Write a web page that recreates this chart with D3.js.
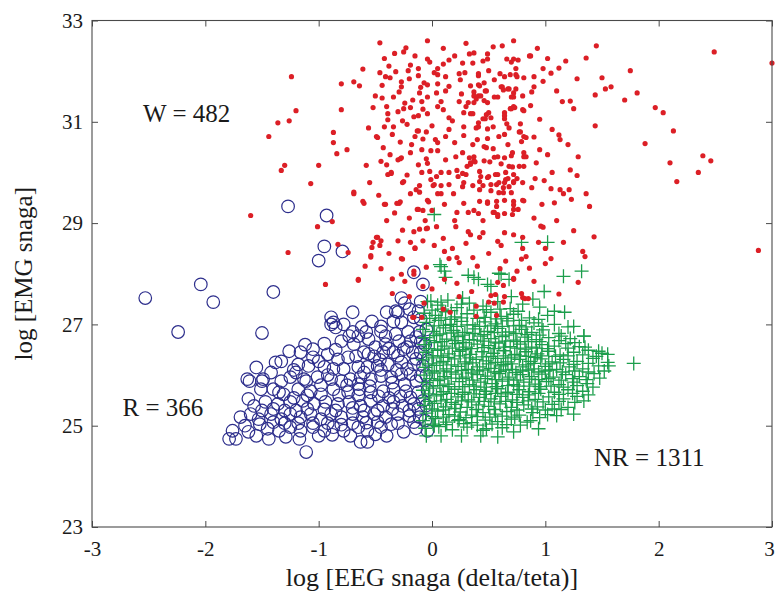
<!DOCTYPE html>
<html>
<head>
<meta charset="utf-8">
<script src="https://cdn.jsdelivr.net/npm/d3@7"></script>
<style>
  html, body { margin: 0; padding: 0; background: #fff; }
  text { font-family: "Liberation Serif", "Times New Roman", serif; fill: #1a1a1a; }
</style>
</head>
<body>
<svg id="chart" width="776" height="605"></svg>
<script>
"use strict";

var xTicks = [-3, -2, -1, 0, 1, 2, 3];
var yTicks = [23, 25, 27, 29, 31, 33];
var xTitle = "log [EEG snaga (delta/teta)]";
var yTitle = "log [EMG snaga]";
var groupLabels = ["W = 482", "R = 366", "NR = 1311"];
var labelAnchors = [[-2.55, 31.0], [-2.73, 25.2], [1.43, 24.2]];

// W (budnost) - red dots
var wakePoints = [
  [-1.24,31.89],[-1.20,31.22],[-1.26,31.02],[-1.36,30.98],[-1.44,30.71],[-0.80,31.75],[-0.69,31.79],[-0.64,31.71],
  [-0.61,32.04],[-0.46,32.56],[-0.80,31.24],[-0.87,30.79],[-0.87,30.59],[-0.84,30.37],[-0.75,30.45],[-1.30,30.14],
  [-1.33,30.04],[-1.00,30.14],[-1.07,29.78],[-1.60,29.15],[-0.69,29.58],[-0.60,29.39],[-0.58,30.14],[-0.55,29.80],
  [-0.56,30.88],[-0.52,31.28],[-0.50,31.51],[-0.44,31.47],[-0.42,29.37],[-0.28,29.42],[-0.25,29.82],[-0.36,30.00],
  [-0.37,30.35],[-0.43,30.49],[-0.39,31.04],[-0.48,30.69],[-0.35,30.75],[-0.28,30.27],[-0.19,30.39],[-0.19,29.58],
  [-0.14,29.66],[-0.12,29.27],[-0.08,29.25],[-0.03,29.42],[-0.04,32.60],[-0.23,32.46],[-0.25,32.38],[-0.19,32.12],
  [-0.21,32.01],[-0.27,31.79],[-0.27,31.69],[-0.29,31.59],[-0.34,31.49],[-0.46,31.97],[-0.41,31.89],[-0.37,31.87],
  [-0.32,31.99],[-0.17,31.43],[-0.24,31.37],[-0.25,31.26],[-0.19,31.28],[-0.16,31.10],[-0.26,31.02],[-0.11,31.57],
  [-0.07,31.77],[-0.04,31.49],[-0.12,30.82],[-0.08,30.66],[-0.09,30.45],[-0.02,30.02],[-0.01,29.86],[0.01,29.74],
  [0.05,29.58],[-0.01,30.43],[-0.04,32.24],[-0.02,32.18],
  [-1.01,28.93],[-0.88,29.03],[-1.27,28.42],[-0.94,27.79],[-0.83,28.58],[-0.74,28.42],[-0.65,27.89],[-0.53,28.52],
  [-0.48,28.72],[-0.45,28.65],[-0.59,28.15],[-0.54,28.33],[-0.61,29.43],[-0.41,29.37],[-0.31,29.39],[-0.26,28.86],
  [-0.16,28.83],[-0.26,28.29],[-0.24,27.85],[-0.35,27.61],[-0.16,27.14],[-0.09,27.14],[-0.05,28.89],[-0.15,28.51],
  [-0.69,29.61],[-0.11,29.61],[-0.04,29.45],[-0.13,29.27],[-0.16,27.99],[-0.27,27.99],[-0.36,29.98],[-0.26,29.80],
  [-0.29,29.39],[0.04,29.92],[0.08,29.74],[0.15,29.76],[0.23,29.92],[0.30,29.96],[0.08,29.58],[0.19,29.58],
  [0.27,29.72],[0.36,29.74],[0.43,29.92],[0.45,29.74],[0.50,29.92],[0.58,29.96],[0.65,29.86],[0.57,29.76],
  [0.63,29.60],[0.72,29.80],[0.80,29.80],[0.11,29.37],[0.22,29.21],[0.28,29.39],[0.42,29.43],[0.49,29.39],
  [0.57,29.43],[0.64,29.45],[0.72,29.43],[0.72,29.27],[0.76,29.27],[0.55,29.21],[0.58,29.13],[0.64,29.19],
  [0.37,29.25],[0.32,29.21],[-0.11,28.88],[-0.04,28.90],[0.04,28.93],[0.21,28.93],[0.32,28.83],[0.34,28.77],
  [0.45,28.81],[0.42,28.72],[0.58,28.64],[0.64,28.81],[0.72,28.77],[0.80,28.50],[0.80,28.72],[0.61,28.56],
  [-0.19,28.62],[-0.49,28.72],[-0.52,28.62],[-0.46,28.56],[-0.54,28.36],[-0.65,27.87],[-0.27,28.30],[-0.15,28.50],
  [0.02,28.56],[0.11,28.44],[0.18,28.50],[0.22,28.32],[0.24,28.22],[0.36,28.32],[-0.05,28.13],[-0.16,28.05],
  [0.24,27.55],[0.39,27.36],[0.50,27.44],[0.56,27.59],[0.64,27.55],[0.80,27.53],[0.10,27.30],[-0.17,27.14],
  [0.11,27.89],[0.22,27.81],[0.58,27.83],[0.63,27.77],[0.72,27.89],[0.79,27.61],[0.82,27.51],[0.85,27.51],
  [0.52,27.57],[0.55,27.42],[0.63,27.44],[0.39,27.16],[0.57,27.18],[0.16,27.24],[-0.07,27.42],[1.29,27.83],
  [0.33,32.34],[0.37,32.36],[0.54,32.48],[0.49,32.34],[0.15,32.22],[0.10,32.14],[0.27,32.16],[0.36,32.16],
  [0.66,32.24],[0.70,32.18],[0.76,32.22],[0.86,32.30],[0.74,32.05],[0.74,31.93],[-0.12,31.91],[0.02,31.97],
  [0.05,31.93],[0.12,31.89],[0.24,31.95],[0.29,31.97],[0.25,31.83],[0.41,31.91],[0.55,31.83],[0.64,31.89],
  [0.81,31.87],[-0.04,31.73],[0.05,31.75],[0.34,31.71],[0.41,31.73],[0.46,31.77],[0.62,31.69],[0.68,31.65],
  [0.74,31.65],[0.04,31.57],[0.12,31.61],[0.26,31.55],[0.37,31.51],[0.48,31.61],[0.58,31.49],[0.72,31.49],
  [0.80,31.51],[-0.09,31.40],[0.08,31.40],[0.10,31.24],[0.05,31.30],[0.24,31.40],[0.32,31.38],[0.39,31.45],
  [0.46,31.42],[0.49,31.38],[0.70,31.26],[0.73,31.28],[0.80,31.24],[0.64,31.18],[-0.12,31.12],[-0.04,31.16],
  [0.15,31.08],[0.18,31.02],[0.28,31.18],[0.34,31.16],[0.47,31.06],[0.52,31.08],[0.64,31.06],[-0.39,31.16],
  [-0.34,30.90],[-0.13,30.82],[0.00,30.92],[0.28,30.90],[0.41,30.90],[0.49,30.86],[0.68,30.88],[0.77,30.80],
  [0.81,30.71],[-0.49,30.71],[-0.15,30.71],[0.03,30.65],[0.05,30.59],[0.12,30.71],[0.20,30.59],[0.28,30.73],
  [0.40,30.65],[0.48,30.49],[0.54,30.47],[0.59,30.71],[0.67,30.55],[0.70,30.33],[-0.30,30.25],[-0.27,30.29],
  [-0.05,30.27],[-0.04,30.18],[0.05,30.43],[0.27,30.39],[0.33,30.29],[0.21,30.31],[0.31,30.12],[0.34,30.16],
  [0.37,30.23],[0.46,30.23],[0.64,30.29],[0.77,30.12],[0.81,30.31],[0.81,30.12],[-0.45,30.22],[-0.39,29.96],
  [-0.09,30.00],[0.08,30.00],[0.15,30.00],[0.22,30.04],[0.27,29.98],[0.42,30.02],[0.49,29.90],[0.68,30.12],
  [0.72,29.96],[0.75,29.88],[-0.11,29.74],[0.02,29.76],[0.28,29.80],[0.59,29.80],[0.64,29.80],
  [0.49,32.24],[0.72,32.24],[0.41,31.95],[0.50,32.01],[0.69,31.93],[0.75,31.89],[0.42,31.71],[0.61,31.69],
  [0.63,31.63],[0.67,31.65],[0.37,31.59],[0.47,31.61],[0.55,31.49],[0.41,31.51],[0.43,31.51],[0.70,31.49],
  [0.72,31.57],[0.37,31.38],[0.69,31.26],[0.72,31.30],[0.81,31.22],[0.64,31.12],[0.50,31.18],[0.48,31.14],
  [0.45,31.06],[0.36,31.16],[0.41,30.98],[0.39,30.88],[0.54,30.90],[0.66,30.96],[0.78,30.96],[0.64,30.75],
  [0.78,30.80],[0.83,30.69],[0.79,30.61],[0.49,30.67],[0.36,30.55],[0.46,30.51],[0.71,30.39],[0.81,30.39],
  [0.83,30.31],[0.58,30.31],[0.37,30.31],[0.34,30.19],[0.38,30.21],[0.51,30.21],[0.61,30.17],[0.71,30.11],
  [0.65,30.00],[0.56,29.96],[0.67,29.88],[0.72,29.82],[0.42,29.82],[0.52,29.76],[0.63,29.70],[0.68,29.72],
  [0.70,29.60],[0.42,29.66],[0.52,29.64],[0.59,29.60],[0.72,29.36],[0.81,29.44],[0.49,29.42],[0.57,29.33],
  [0.54,29.21],[0.58,29.17],[0.41,29.19],[0.71,29.17],
  [0.72,32.60],[1.45,32.50],[1.36,32.26],[2.49,32.38],[3.00,32.16],[0.87,32.30],[0.98,32.05],[1.05,31.96],
  [1.12,32.06],[0.90,31.89],[0.90,31.69],[0.88,31.59],[0.87,31.32],[1.10,31.61],[1.22,31.41],[1.25,31.26],
  [1.50,31.87],[1.53,31.65],[1.58,31.69],[1.44,31.53],[1.75,32.01],[1.81,31.57],[1.70,31.43],[1.97,31.28],
  [2.04,31.18],[1.44,30.92],[2.13,30.82],[1.12,30.74],[1.13,30.65],[1.88,30.57],[0.95,30.45],[1.29,30.31],
  [2.39,30.33],[2.46,30.23],[2.10,30.19],[0.92,30.19],[2.35,30.00],[2.16,29.82],[1.06,30.00],[1.28,29.94],
  [0.99,29.84],[0.91,29.88],[1.05,29.68],[1.13,29.66],[1.16,29.58],[1.21,29.66],[1.23,29.47],[1.36,29.58],
  [1.39,29.33],[0.97,29.37],[0.80,29.45],[2.88,28.46],[1.43,28.73],[1.33,28.44],[1.35,28.34],[1.16,28.62],
  [1.00,28.50],[1.00,28.20],[0.86,28.11],[0.98,28.92],[0.96,28.94],[0.94,28.62],[0.83,28.34],[0.79,28.29],
  [0.72,27.91],
  [-0.42,32.25],[-0.33,32.35],[-0.15,32.30],[-0.38,32.10],[-0.12,32.05],[-0.44,31.72],[-0.20,31.85],[-0.10,31.68],
  [-0.40,31.30],[-0.30,31.20],[-0.08,31.25],[-0.22,30.95],[-0.42,30.90],[-0.05,30.80],[-0.28,30.60],[-0.18,30.55],
  [-0.40,30.15],[-0.12,30.15],[-0.22,29.95],[-0.47,29.55],[-0.33,29.20],[-0.20,29.10],[-0.40,29.05],[-0.06,29.05],
  [-0.30,28.65],[-0.08,28.65],[-0.38,28.40],[-0.45,28.10],[-0.35,27.90],[-0.08,27.75],[-0.20,27.55],
  [0.93,32.45],[1.02,32.25],[1.18,32.20],[1.28,31.85],[0.98,31.80],[1.15,31.40],[0.95,31.05],[1.06,30.85],
  [0.90,30.70],[1.20,30.55],[1.02,30.35],[1.22,30.05],[0.88,29.70],[1.08,29.40],[0.90,29.10],[1.10,29.05],
  [1.25,28.85],[1.05,28.30],[0.90,27.85],[1.12,27.60],[0.30,32.55],[0.10,32.45],[0.62,32.50],[0.20,32.30],
  [0.45,32.20],[0.05,32.05],[0.60,31.95],[0.15,31.70],[0.30,31.30],[0.15,30.85],[0.55,30.30],[0.12,30.25],
  [0.00,29.25],[0.20,29.05],[0.45,29.05],[0.10,28.70],[0.30,28.60],[0.50,28.40],[0.65,28.25],[0.40,28.15],
  [0.15,28.30],[0.00,27.70],[0.35,27.65],[0.60,28.10],[0.75,28.05]
];

// R (REM) - blue circles
var remPoints = [
  [-1.27,29.33],[-0.93,29.15],[-0.95,28.54],[-0.79,28.44],[-1.00,28.26],[-2.04,27.79],[-2.53,27.52],[-1.93,27.44],
  [-1.40,27.64],[-2.24,26.85],[-1.50,26.83],[-0.16,28.03],[-0.08,27.79],[-0.27,27.52],[-0.24,27.42],[-0.70,27.24],
  [-0.89,27.14],[-0.87,27.04],[-0.40,27.24],[-0.32,27.26],[-0.12,27.26],[-0.53,27.06],[-0.45,26.96],
  [-0.85,26.94],[-0.89,27.00],[-0.30,27.24],[-0.34,27.06],[-0.27,27.04],[-0.16,27.14],[-0.10,27.10],[-0.11,26.85],
  [-0.21,26.85],[-0.32,26.81],[-0.41,26.77],[-0.45,26.86],[-0.58,26.85],[-0.65,26.77],[-0.73,26.77],[-0.80,26.67],
  [-0.69,26.61],[-0.56,26.71],[-0.41,26.61],[-0.29,26.67],[-0.19,26.67],[-0.10,26.65],[-0.10,26.45],[-0.17,26.45],
  [-0.25,26.51],[-0.34,26.45],[-0.43,26.45],[-0.51,26.37],[-0.60,26.45],[-0.67,26.37],[-0.74,26.35],[-0.83,26.31],
  [-0.92,26.41],[-1.00,26.27],[-1.05,26.51],[-1.16,26.45],[-1.26,26.47],[-1.33,26.27],[-1.18,26.21],[-1.09,26.18],
  [-0.95,26.16],[-0.87,26.12],[-0.78,26.12],[-0.65,26.16],[-0.57,26.16],[-0.48,26.18],[-0.39,26.21],[-0.27,26.25],
  [-0.16,26.21],[-0.08,26.18],[-0.10,25.98],[-0.19,26.02],[-0.27,26.02],[-0.36,25.96],[-0.45,25.98],[-0.54,25.92],
  [-0.63,25.96],[-0.72,25.92],[-0.80,25.88],[-0.89,25.92],[-1.01,25.96],[-1.13,25.92],[-1.25,25.96],[-1.33,25.88],
  [-1.49,25.92],[-1.63,25.92],[-1.62,25.53],[-1.51,25.72],[-1.40,25.72],[-1.31,25.62],[-1.18,25.72],[-1.07,25.68],
  [-0.98,25.62],[-0.87,25.72],[-0.74,25.66],[-0.64,25.72],[-0.54,25.66],[-0.43,25.68],[-0.34,25.72],[-0.23,25.68],
  [-0.12,25.66],[-0.08,25.49],[-0.16,25.43],[-0.26,25.39],[-0.34,25.47],[-0.43,25.39],[-0.54,25.49],[-0.63,25.39],
  [-0.73,25.47],[-0.83,25.43],[-0.94,25.47],[-1.04,25.43],[-1.14,25.49],[-1.25,25.47],[-1.36,25.43],[-1.47,25.47],
  [-1.57,25.39],[-1.69,25.17],[-1.60,25.23],[-1.53,25.13],[-1.42,25.23],[-1.33,25.13],[-1.25,25.23],[-1.16,25.17],
  [-1.07,25.23],[-0.98,25.13],[-0.89,25.23],[-0.80,25.17],[-0.70,25.23],[-0.61,25.17],[-0.51,25.23],[-0.41,25.17],
  [-0.30,25.23],[-0.20,25.19],[-0.11,25.17],[-0.12,25.33],[-1.76,24.90],[-1.79,24.74],[-1.73,24.74],[-1.62,24.88],
  [-1.55,24.80],[-1.45,24.94],[-1.35,24.90],[-1.25,24.97],[-1.16,24.90],[-1.05,24.97],[-0.95,24.90],[-0.87,24.97],
  [-0.78,24.90],[-0.65,24.97],[-0.57,24.90],[-0.45,24.97],[-0.36,25.03],[-0.25,24.88],[-0.16,25.07],[-0.63,24.68],
  [-0.57,24.68],[-1.11,24.48],[-1.17,24.74],[-1.29,24.78],[-1.44,24.74],[-1.61,25.88],[-1.50,25.88],[-1.38,26.25],
  [-1.11,25.88],[-1.35,25.66],
  [-0.05,26.90],[-0.06,26.60],[-0.04,26.30],[-0.05,26.00],[-0.04,25.70],[-0.05,25.40],[-0.06,25.10],[-0.04,24.90],
  [-0.14,26.75],[-0.22,26.55],[-0.30,26.38],[-0.14,26.32],[-0.22,26.12],[-0.31,26.10],[-0.14,25.88],[-0.24,25.82],
  [-0.46,26.30],[-0.38,26.52],[-0.50,26.55],[-0.56,26.42],[-0.19,25.56],[-0.28,25.58],[-0.38,25.55],[-0.47,25.58],
  [-0.20,25.30],[-0.35,25.33],[-0.48,25.30],[-0.60,25.30],[-0.70,25.35],[-0.85,25.30],[-0.95,25.32],[-1.10,25.33],
  [-1.20,25.30],[-1.30,25.30],[-1.40,25.33],[-1.50,25.30],[-1.05,25.05],[-0.92,25.05],[-0.80,25.02],[-0.70,25.05],
  [-0.58,25.06],[-0.48,25.07],[-1.18,25.05],[-1.30,25.05],[-1.40,25.07],[-1.52,25.03],[-1.65,25.00],[-1.00,24.80],
  [-0.88,24.82],[-0.72,24.80],[-0.50,24.83],[-0.40,24.80],[-0.30,25.05],[-0.14,24.95],[-0.75,25.80],[-0.65,25.82],
  [-0.55,25.78],[-0.98,25.80],[-0.92,26.00],[-1.20,26.05],[-1.05,26.35],[-0.85,26.50],[-0.95,26.62],[-1.12,26.60],
  [-1.22,26.10],[-1.42,26.05],[-1.55,26.15],[-0.70,26.85],[-0.62,26.95],[-0.78,27.00],[-0.20,27.30],[-0.10,27.45],
  [-0.60,26.05],[-0.45,26.10],[-0.35,25.85],[-1.10,25.60],[-1.22,25.55],[-0.82,25.60],[-0.65,25.60]
];

// NR (NREM) - green crosses
var nremPoints = [
  [0.02,29.17],[1.02,28.62],[1.16,27.95],[1.32,28.05],[0.07,28.18],[0.11,28.05],[0.37,27.93],[0.52,27.75],
  [0.61,27.99],[0.70,27.55],[0.99,27.65],[0.89,27.50],[1.08,27.26],[1.17,27.24],[1.25,26.96],[1.34,26.77],
  [1.14,26.77],[1.47,26.47],[1.55,26.41],[1.78,26.23],[1.56,26.18],[1.34,25.49],[1.25,25.23],[1.08,25.33],
  [0.94,24.94],[0.72,24.88],[0.58,24.78],[0.43,24.80],[0.26,24.80],[0.08,24.80],[-0.05,24.80],[0.02,25.00],
  [0.23,25.10],[0.48,24.94],[0.87,25.10],[0.08,28.14],[0.12,27.93],[0.32,27.97],[0.41,27.89],[0.49,27.79],
  [0.59,28.01],[0.68,27.89],[0.26,27.40],[0.08,27.44],[-0.01,27.46],[0.79,28.62],
  [-0.04,27.45],[0.05,27.38],[0.14,27.48],[0.22,27.33],[0.33,27.42],[0.45,27.36],[0.58,27.45],[0.69,27.31],
  [0.80,27.40],[0.95,27.34],[0.27,27.52],
  [-0.07,27.22],[0.03,27.18],[0.12,27.25],[0.20,27.15],[0.31,27.21],[0.40,27.12],[0.52,27.24],[0.61,27.16],
  [0.72,27.20],[0.86,27.13],[1.02,27.18],
  [-0.05,27.04],[0.06,27.08],[0.16,27.00],[0.26,27.06],[0.36,26.99],[0.47,27.05],[0.56,27.01],[0.67,27.07],
  [0.77,26.98],[0.90,27.03],[1.08,27.00],[1.20,26.95],
  [-0.08,26.90],[0.01,26.86],[0.10,26.93],[0.19,26.88],[0.29,26.84],[0.38,26.91],[0.49,26.86],[0.58,26.92],
  [0.68,26.85],[0.79,26.90],[0.88,26.84],[0.98,26.89],[1.12,26.82],
  [-0.06,26.74],[0.04,26.78],[0.13,26.71],[0.23,26.76],[0.33,26.70],[0.43,26.77],[0.52,26.72],[0.62,26.76],
  [0.72,26.69],[0.82,26.75],[0.92,26.70],[1.03,26.74],[1.22,26.72],[1.34,26.77],
  [-0.07,26.60],[0.02,26.64],[0.11,26.57],[0.21,26.62],[0.30,26.55],[0.40,26.61],[0.50,26.58],[0.59,26.63],
  [0.69,26.56],[0.78,26.61],[0.88,26.55],[0.97,26.60],[1.08,26.57],[1.18,26.62],[1.30,26.56],
  [-0.05,26.45],[0.05,26.49],[0.15,26.42],[0.24,26.47],[0.34,26.41],[0.44,26.46],[0.54,26.43],[0.63,26.48],
  [0.73,26.41],[0.83,26.46],[0.93,26.42],[1.03,26.47],[1.13,26.40],[1.25,26.45],[1.38,26.49],[1.50,26.43],
  [-0.08,26.30],[0.01,26.34],[0.10,26.27],[0.20,26.32],[0.29,26.26],[0.39,26.31],[0.48,26.28],[0.58,26.33],
  [0.67,26.26],[0.77,26.31],[0.87,26.27],[0.96,26.32],[1.06,26.26],[1.16,26.31],[1.28,26.27],[1.42,26.33],
  [-0.06,26.15],[0.04,26.19],[0.13,26.12],[0.23,26.17],[0.32,26.11],[0.42,26.16],[0.52,26.13],[0.61,26.18],
  [0.71,26.11],[0.80,26.16],[0.90,26.12],[1.00,26.17],[1.10,26.11],[1.21,26.16],[1.33,26.12],[1.47,26.18],
  [-0.07,26.00],[0.02,26.04],[0.11,25.97],[0.21,26.02],[0.30,25.96],[0.40,26.01],[0.49,25.98],[0.59,26.03],
  [0.68,25.96],[0.78,26.01],[0.88,25.97],[0.97,26.02],[1.07,25.96],[1.18,26.01],[1.30,25.97],[1.43,26.03],
  [-0.05,25.85],[0.05,25.89],[0.14,25.82],[0.24,25.87],[0.33,25.81],[0.43,25.86],[0.53,25.83],[0.62,25.88],
  [0.72,25.81],[0.81,25.86],[0.91,25.82],[1.01,25.87],[1.12,25.81],[1.25,25.86],[1.37,25.83],
  [-0.08,25.70],[0.01,25.74],[0.10,25.67],[0.20,25.72],[0.29,25.66],[0.39,25.71],[0.48,25.68],[0.58,25.73],
  [0.67,25.66],[0.77,25.71],[0.86,25.67],[0.96,25.72],[1.08,25.66],[1.20,25.71],[1.33,25.68],
  [-0.06,25.55],[0.04,25.59],[0.13,25.52],[0.23,25.57],[0.32,25.51],[0.42,25.56],[0.52,25.53],[0.61,25.58],
  [0.71,25.51],[0.80,25.56],[0.91,25.52],[1.03,25.57],[1.16,25.53],[1.28,25.58],
  [-0.07,25.40],[0.02,25.44],[0.12,25.37],[0.21,25.42],[0.31,25.36],[0.41,25.41],[0.50,25.38],[0.60,25.43],
  [0.70,25.36],[0.81,25.41],[0.93,25.37],[1.06,25.42],[1.20,25.36],
  [-0.05,25.25],[0.05,25.29],[0.15,25.22],[0.25,25.27],[0.35,25.21],[0.45,25.26],[0.56,25.23],[0.66,25.28],
  [0.77,25.21],[0.89,25.26],[1.02,25.22],
  [-0.08,25.10],[0.03,25.14],[0.13,25.07],[0.24,25.12],[0.35,25.06],[0.47,25.11],[0.58,25.08],[0.70,25.13],
  [0.84,25.07],[-0.06,24.95],[0.06,24.98],[0.18,24.92],[0.31,24.97],[0.45,24.91],[0.62,24.96],
  [0.25,26.38],[0.35,26.52],[0.45,26.36],[0.55,26.52],[0.65,26.38],[0.75,26.53],[0.85,26.37],[0.30,26.22],
  [0.40,26.08],[0.50,26.22],[0.60,26.07],[0.70,26.22],[0.80,26.08],[0.90,26.23],[0.27,25.93],[0.37,25.78],
  [0.47,25.93],[0.57,25.77],[0.67,25.92],[0.76,25.78],[0.86,25.92],[0.18,26.53],[0.08,26.38],[0.10,26.08],
  [0.15,25.77],[0.08,25.62],[0.27,25.62],[0.47,25.62],[0.65,25.63],[0.85,25.61],[0.97,26.38],[1.00,26.08],
  [0.95,25.77],[0.20,26.68],[0.45,26.67],[0.65,26.67],[0.85,26.66],[0.35,25.47],[0.55,25.47],[0.75,25.46],
  [0.07,26.81],[0.17,26.83],[0.27,26.79],[0.36,26.82],[0.46,26.80],[0.55,26.84],[0.65,26.79],[0.74,26.82],
  [0.84,26.80],[0.95,26.79],[-0.02,26.68],[0.09,26.66],[0.28,26.64],[0.37,26.69],[0.56,26.65],[0.75,26.66],
  [0.95,26.66],[1.12,26.68],[1.26,26.64],[-0.03,26.52],[0.08,26.51],[0.27,26.50],[0.46,26.54],[0.64,26.55],
  [0.82,26.51],[0.92,26.53],[1.02,26.52],[1.20,26.53],[1.35,26.55],[0.00,26.38],[0.14,26.35],[0.33,26.34],
  [0.52,26.37],[0.70,26.34],[0.78,26.38],[0.91,26.35],[1.09,26.37],[1.20,26.38],[1.33,26.40],[1.45,26.37],
  [-0.03,26.22],[0.07,26.24],[0.17,26.20],[0.36,26.24],[0.56,26.25],[0.63,26.21],[0.83,26.20],[1.03,26.22],
  [1.13,26.24],[1.25,26.21],[1.38,26.23],[1.55,26.25],[0.00,26.08],[0.17,26.06],[0.26,26.09],[0.35,26.04],
  [0.45,26.10],[0.55,26.06],[0.65,26.10],[0.74,26.05],[0.85,26.10],[0.94,26.06],[1.04,26.10],[1.15,26.06],
  [1.26,26.08],[1.38,26.06],[1.52,26.08],[-0.02,25.93],[0.07,25.92],[0.17,25.94],[0.36,25.90],[0.56,25.91],
  [0.75,25.90],[0.94,25.91],[1.03,25.93],[1.14,25.90],[1.24,25.93],[1.36,25.91],[1.48,25.94],[-0.02,25.78],
  [0.07,25.79],[0.27,25.77],[0.46,25.76],[0.67,25.79],[0.86,25.78],[1.05,25.78],[1.16,25.76],[1.28,25.79],
  [1.42,25.76],[-0.03,25.63],[0.17,25.64],[0.37,25.63],[0.56,25.64],[0.75,25.62],[0.94,25.64],[1.12,25.62],
  [1.24,25.64],[1.38,25.61],[-0.02,25.48],[0.08,25.49],[0.17,25.46],[0.26,25.49],[0.46,25.48],[0.65,25.48],
  [0.85,25.49],[0.98,25.47],[1.12,25.48],[1.26,25.46],[0.00,25.33],[0.10,25.31],[0.20,25.34],[0.39,25.32],
  [0.55,25.32],[0.75,25.31],[0.88,25.33],[1.00,25.31],[1.14,25.32],[0.00,25.18],[0.10,25.17],[0.20,25.19],
  [0.30,25.16],[0.40,25.18],[0.51,25.17],[0.62,25.19],[0.73,25.17],[0.95,25.16],[1.10,25.20],[0.01,25.03],
  [0.12,25.02],[0.28,25.04],[0.40,25.01],[0.53,25.03],[0.66,25.02],[0.78,25.01],[0.02,26.97],[0.12,26.98],
  [0.22,26.96],[0.31,26.99],[0.42,26.96],[0.52,26.97],[0.62,26.96],[0.72,26.97],[0.83,26.95],[0.97,26.96],
  [-0.02,27.12],[0.08,27.13],[0.17,27.10],[0.26,27.13],[0.46,27.14],[0.57,27.11],[0.66,27.12],[0.79,27.08],
  [0.94,27.10],[0.00,27.28],[0.09,27.30],[0.17,27.27],[0.37,27.28],[0.48,27.29],[0.60,27.30],[0.76,27.26]
];

var svg = d3.select("#chart");
var margin = {top: 20.5, right: 4, bottom: 78, left: 92};
var W = +svg.attr("width"), H = +svg.attr("height");
var iw = W - margin.left - margin.right, ih = H - margin.top - margin.bottom;

var x = d3.scaleLinear().domain([-3, 3]).range([0, iw]);
var y = d3.scaleLinear().domain([23, 33]).range([ih, 0]);

var g = svg.append("g").attr("transform", "translate(" + margin.left + "," + margin.top + ")");

// points: REM, then NREM, then W on top
g.append("g").selectAll("circle").data(remPoints).join("circle")
    .attr("cx", function (d) { return x(d[0]); })
    .attr("cy", function (d) { return y(d[1]); })
    .attr("r", 6.3)
    .attr("fill", "none")
    .attr("stroke", "#2d2e8c")
    .attr("stroke-width", 1.2);

var arm = 7;
g.append("g").selectAll("path").data(nremPoints).join("path")
    .attr("d", function (d) {
        var cx = x(d[0]), cy = y(d[1]);
        return "M" + (cx - arm) + "," + cy + "H" + (cx + arm) + "M" + cx + "," + (cy - arm) + "V" + (cy + arm);
    })
    .attr("stroke", "#1c9e4c")
    .attr("stroke-width", 1.3)
    .attr("fill", "none");

g.append("g").selectAll("circle").data(wakePoints).join("circle")
    .attr("cx", function (d) { return x(d[0]); })
    .attr("cy", function (d) { return y(d[1]); })
    .attr("r", 2.6)
    .attr("fill", "#dc1f26");

// frame + ticks (inward, all four sides)
var frameColor = "#4a4a4a";
g.append("rect").attr("x", 0).attr("y", 0).attr("width", iw).attr("height", ih)
    .attr("fill", "none").attr("stroke", frameColor).attr("stroke-width", 1.1);

var plainNum = function (d) { return String(d); };   // hyphen minus, like the original
var xb = g.append("g").attr("transform", "translate(0," + ih + ")")
    .call(d3.axisBottom(x).tickValues(xTicks).tickSizeInner(-6).tickSizeOuter(0).tickPadding(14).tickFormat(plainNum));
var xt = g.append("g")
    .call(d3.axisTop(x).tickValues(xTicks).tickSizeInner(-6).tickSizeOuter(0).tickFormat(""));
var yl = g.append("g")
    .call(d3.axisLeft(y).tickValues(yTicks).tickSizeInner(-6).tickSizeOuter(0).tickPadding(9).tickFormat(plainNum));
var yr = g.append("g").attr("transform", "translate(" + iw + ",0)")
    .call(d3.axisRight(y).tickValues(yTicks).tickSizeInner(-6).tickSizeOuter(0).tickFormat(""));

[xb, xt, yl, yr].forEach(function (a) {
    a.select(".domain").remove();
    a.selectAll(".tick line").attr("stroke", frameColor);
    a.selectAll(".tick text")
        .style("font-family", "'Liberation Serif', 'Times New Roman', serif")
        .style("font-size", "21px").attr("fill", "#1a1a1a");
});
// last x label sits on the page edge
xb.selectAll(".tick text").filter(function (d) { return d === 3; }).attr("dx", -3);

// titles
svg.append("text")
    .attr("x", margin.left + iw / 2).attr("y", 586)
    .attr("text-anchor", "middle")
    .style("font-size", "26px")
    .text(xTitle);

svg.append("text")
    .attr("transform", "translate(32," + (margin.top + ih / 2) + ") rotate(-90)")
    .attr("text-anchor", "middle")
    .style("font-size", "25px")
    .text(yTitle);

// group counts
g.selectAll("text.count").data(groupLabels).join("text")
    .attr("class", "count")
    .attr("x", function (d, i) { return x(labelAnchors[i][0]); })
    .attr("y", function (d, i) { return y(labelAnchors[i][1]); })
    .style("font-size", "25px")
    .text(function (d) { return d; });
</script>
</body>
</html>
